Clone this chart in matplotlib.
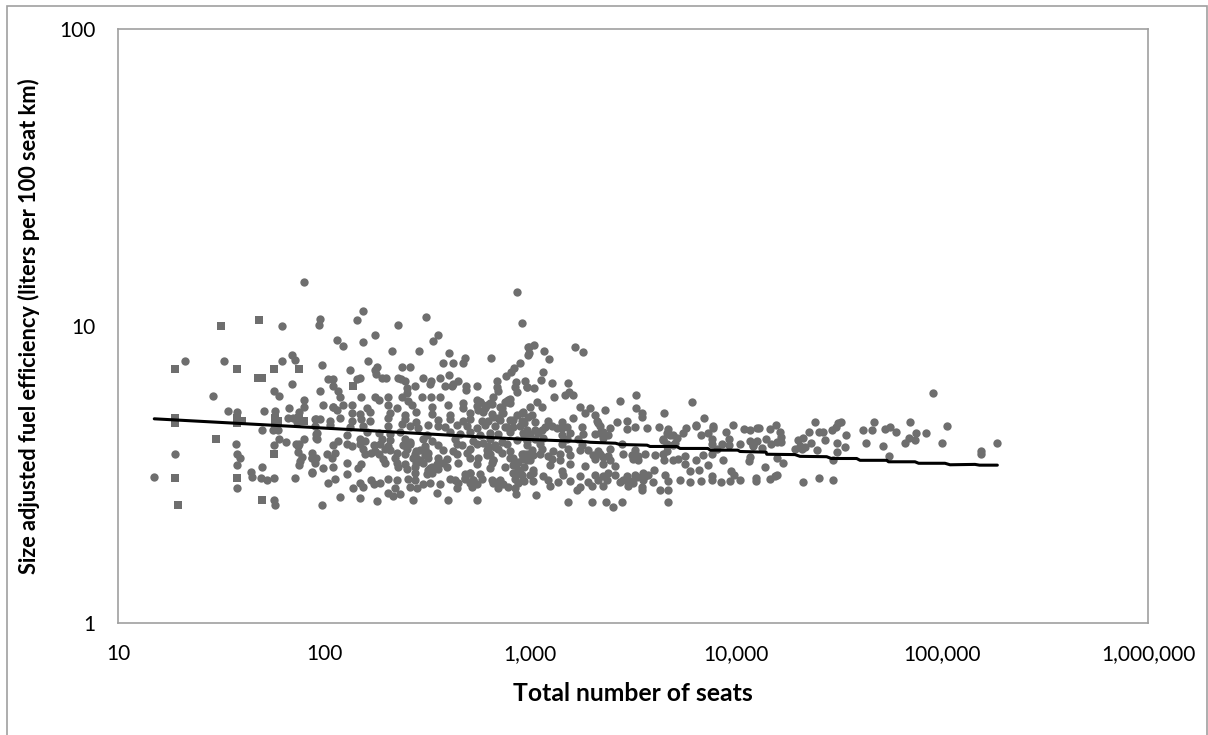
import matplotlib
matplotlib.use('Agg')
import matplotlib.pyplot as plt
from matplotlib.patches import Rectangle
from matplotlib.ticker import FixedLocator, FixedFormatter, NullLocator

plt.rcParams['font.family'] = ['Lato', 'DejaVu Sans']

GREY = '#6e6e6e'
FRAME = '#a0a0a0'

x_ticks = [10, 100, 1000, 10000, 100000, 1000000]
x_tick_labels = ['10', '100', '1,000', '10,000', '100,000', '1,000,000']
y_ticks = [1, 10, 100]
y_tick_labels = ['1', '10', '100']

# operators that came out with square markers in the original
seats_square = [31.6, 48.3, 18.9, 37.9, 57, 75.7, 48, 50, 18.9, 18.9, 37.9, 37.9, 40.1,
                57.6, 57.6, 59.8, 29.9, 18.9, 37.9, 19.6, 50, 75.7, 80, 139, 57]
fuel_square = [10.0, 10.5, 7.15, 7.15, 7.15, 7.15, 6.7, 6.7, 4.89, 4.72, 4.89, 4.72, 4.8,
               4.89, 4.72, 4.8, 4.17, 3.07, 3.07, 2.5, 2.6, 4.89, 4.8, 6.3, 3.72]

# below 100 seats
seats_small = [80, 62.8, 21.1, 32.8, 62.8, 69.9, 72.6, 69.9, 57, 60.4, 28.9, 80, 80, 67.6,
               34.2, 37.9, 51.2, 58, 75.7, 66.9, 70.6, 73.8, 91, 50, 56.4, 59.7, 91, 91,
               60.4, 65.2, 80, 37.3, 57, 73.3, 75.7, 74.5, 18.9, 37.9, 38.9, 74.5, 78, 76.5,
               75.7, 87.5, 87.5, 91, 37.9, 50, 44.3, 44.9, 15, 49.5, 53, 57, 72.6, 87.5,
               37.9, 57, 58]
fuel_small = [14.1, 10.0, 7.64, 7.64, 7.64, 8.0, 7.7, 6.36, 6.06, 5.82, 5.82, 5.62, 5.35, 5.3,
              5.19, 5.12, 5.19, 5.19, 5.12, 4.89, 4.89, 4.75, 4.85, 4.45, 4.45, 4.45, 4.34, 4.2,
              4.17, 4.07, 4.17, 4.0, 3.96, 4.0, 4.0, 3.93, 3.72, 3.72, 3.58, 3.76, 3.63, 3.5,
              3.4, 3.74, 3.58, 3.6, 3.4, 3.36, 3.23, 3.11, 3.11, 3.07, 3.03, 3.07, 3.07, 3.23,
              2.84, 2.6, 2.5]

# top of the cloud, 100 to 1,000 seats
seats_upper = [862, 915, 155, 144, 96, 94.6, 312, 228, 177, 359, 337, 155, 115, 124, 213, 290,
               406, 978, 978, 379, 422, 484, 475, 647, 164, 98, 895, 238, 261, 134, 176, 180,
               178, 833, 811, 762, 406, 105, 110, 144, 150, 191, 201, 228, 236, 247, 303, 330,
               364, 424, 449, 417, 386, 489, 489, 556, 694, 694, 703, 855, 845, 862, 950, 967,
               276, 252, 327, 110, 117, 120, 96, 152, 177, 185, 204, 238, 252, 298, 330, 364,
               664, 551, 786, 757, 572, 99, 110, 124, 115]
fuel_upper = [13.05, 10.26, 11.2, 10.5, 10.55, 10.1, 10.7, 10.1, 9.3, 9.3, 8.9, 8.8, 9.0, 8.55, 8.25, 8.25,
              8.1, 8.5, 8.0, 7.5, 7.5, 7.8, 7.5, 7.8, 7.62, 7.4, 7.5, 7.25, 7.25, 7.1, 7.1, 7.3,
              6.9, 7.2, 7.0, 6.8, 6.85, 6.65, 6.65, 6.65, 6.7, 6.7, 6.7, 6.7, 6.65, 6.55, 6.7, 6.55,
              6.7, 6.4, 6.55, 6.3, 6.3, 6.3, 6.1, 6.3, 6.55, 6.25, 6.05, 6.5, 6.25, 6.0, 6.55, 6.25,
              6.3, 6.2, 6.4, 6.3, 6.05, 5.78, 6.05, 5.78, 5.78, 5.65, 5.78, 5.78, 5.95, 5.78, 5.78, 5.78,
              5.78, 5.65, 5.65, 5.55, 5.55, 5.42, 5.35, 5.42, 5.2]

# dense band, 100 to 1,000 seats
seats_mid = [256, 475, 572, 640, 772, 800,
             111, 136, 161, 205, 225, 266, 333, 401, 475, 551, 617, 730, 1000,
             136, 150, 167, 209, 247, 281, 336, 409, 511, 594, 652, 730, 862, 929,
             90.4, 95.6, 107, 120, 136, 152, 167, 205, 247, 281, 359, 409, 475, 511, 583, 703, 830, 912,
             90.4, 107, 134, 155, 205, 238, 261, 287, 321, 359, 386, 440, 493, 551, 605, 677, 772, 895,
             92, 129, 161, 184, 209, 234, 315, 409, 458, 511, 572, 640, 703, 800, 929,
             92, 117, 150, 158, 191, 209, 247, 261, 303, 333, 432, 531, 640, 730, 862, 964,
             111, 129, 136, 150, 174, 187, 205, 243, 261, 309, 359, 440, 466, 551, 628, 677, 772, 964,
             155, 177, 198, 209, 252, 281, 309, 379, 424, 511, 617, 703, 800,
             103, 113, 158, 170, 184, 225, 247, 276, 321, 440, 493, 640, 730, 912, 964,
             87.1, 109, 194, 221, 271, 292, 321, 359, 394, 511, 562, 664, 830, 929,
             90.4, 129, 152, 198, 225, 247, 281, 352, 379, 449, 551, 652, 862,
             99, 111, 147, 229, 252, 276, 327, 359, 394, 640, 757,
             87.1, 129, 276, 315, 333, 484, 511, 572, 830, 895,
             113, 170, 205, 227, 256, 276, 409, 432, 484, 531, 583, 652, 716, 846, 929,
             105, 150, 174, 187, 303, 327, 365, 449, 511, 551, 664, 743, 878,
             139, 155, 221, 261, 284, 440, 521, 703, 786, 846,
             205, 234, 352, 854,
             119, 150, 217,
             401, 556, 180, 271,
             98]
fuel_mid = [5.6, 5.5, 5.55, 5.5, 5.6, 5.5,
            5.35, 5.4, 5.3, 5.42, 5.3, 5.4, 5.35, 5.42, 5.3, 5.38, 5.4, 5.3, 5.35,
            5.1, 5.05, 5.15, 5.1, 5.0, 5.12, 5.05, 5.0, 5.1, 5.15, 5.05, 5.1, 5.0, 5.12,
            4.85, 4.85, 4.8, 4.9, 4.8, 4.85, 4.78, 4.9, 4.85, 4.75, 4.82, 4.88, 4.78, 4.85, 4.8, 4.9, 4.82, 4.78,
            4.6, 4.65, 4.58, 4.62, 4.6, 4.68, 4.6, 4.55, 4.65, 4.6, 4.58, 4.65, 4.6, 4.55, 4.65, 4.6, 4.58, 4.62,
            4.35, 4.3, 4.4, 4.35, 4.32, 4.4, 4.3, 4.38, 4.33, 4.4, 4.3, 4.36, 4.32, 4.4, 4.35,
            4.15, 4.1, 4.15, 4.1, 4.18, 4.12, 4.15, 4.08, 4.15, 4.1, 4.18, 4.1, 4.15, 4.08, 4.14, 4.1,
            3.98, 4.0, 3.95, 4.0, 3.97, 4.02, 3.95, 3.98, 4.0, 3.95, 3.98, 4.02, 3.96, 4.0, 3.95, 3.98, 4.02, 3.96,
            3.85, 3.8, 3.85, 3.82, 3.85, 3.8, 3.85, 3.82, 3.8, 3.85, 3.82, 3.85, 3.8,
            3.72, 3.75, 3.7, 3.74, 3.72, 3.75, 3.7, 3.72, 3.75, 3.7, 3.73, 3.7, 3.75, 3.72, 3.7,
            3.58, 3.6, 3.56, 3.6, 3.58, 3.55, 3.6, 3.58, 3.56, 3.6, 3.58, 3.55, 3.6, 3.57,
            3.45, 3.46, 3.44, 3.47, 3.45, 3.43, 3.46, 3.44, 3.47, 3.45, 3.43, 3.46, 3.45,
            3.33, 3.35, 3.32, 3.34, 3.31, 3.35, 3.33, 3.3, 3.34, 3.32, 3.35,
            3.2, 3.18, 3.2, 3.17, 3.2, 3.18, 3.2, 3.17, 3.19, 3.2,
            3.05, 3.02, 3.05, 3.03, 3.06, 3.04, 3.05, 3.02, 3.06, 3.04, 3.05, 3.03, 3.02, 3.06, 3.04,
            2.95, 2.97, 2.93, 2.96, 2.94, 2.95, 2.93, 2.97, 2.95, 2.93, 2.96, 2.94, 2.95,
            2.85, 2.87, 2.84, 2.86, 2.84, 2.85, 2.87, 2.84, 2.86, 2.85,
            2.73, 2.72, 2.74, 2.72,
            2.66, 2.63, 2.68,
            2.6, 2.6, 2.58, 2.6,
            2.5]

# clumps around 300 to 1,000 seats and 1,000 to 5,000 seats
seats_clump = [572, 605, 652, 716, 772, 800, 743, 800, 664, 562, 628, 716, 757, 830, 912, 982,
               292, 309, 281, 303, 321, 333, 594, 628, 677, 617, 664, 800, 878, 929, 830, 878,
               846, 511, 531, 484, 690,
               930, 963, 930, 1058, 1019, 1139, 1345, 1507, 2147, 2069, 2270, 1920, 2030, 2270, 2400,
               2355, 3295, 3550, 3755, 930, 963, 930, 912, 930, 1038, 2838, 3175, 4782, 4440, 4610, 5050]
fuel_clump = [5.55, 5.28, 5.48, 5.35, 5.55, 5.7, 5.08, 4.82, 4.95, 5.22, 4.78, 4.82, 4.58, 4.58, 5.08, 4.95,
              3.83, 3.68, 3.58, 3.45, 3.27, 3.36, 4.03, 3.83, 3.92, 3.68, 3.54, 3.58, 3.48, 3.63, 3.4, 3.27,
              3.19, 3.19, 3.03, 3.07, 2.98,
              4.72, 4.47, 4.24, 4.47, 5.01, 4.47, 4.52, 4.58, 4.72, 4.33, 4.4, 3.82, 3.68, 3.63, 3.19,
              3.03, 3.11, 3.19, 3.14, 3.72, 3.55, 3.36, 3.14, 3.0, 3.19, 3.03, 2.95, 4.3, 4.13, 3.93, 4.03]

# 1,000 to 13,000 seats
seats_thousands = [1046, 990, 990, 1170, 1237, 1653, 1815, 1160, 1127, 1278, 1535, 965, 1046, 1480, 1546, 1610,
                   1307, 2734, 3270, 3270, 3480, 3480, 6100, 4490, 2310, 1085, 1147, 1748, 1955, 1847, 2060, 1623,
                   6960, 9650, 6400, 7700,
                   1058, 1227, 1424, 2107, 2633, 2946,
                   1183, 1274, 1424, 1783, 2186, 2445, 2946, 3235, 3686, 4252, 4697, 5698, 6390, 7710, 10900, 12660,
                   1000, 1098, 1424, 1563, 1816, 2186, 2400, 4610, 4963, 5551, 6800, 7340, 8950,
                   1058, 1160, 1507, 1718, 2270, 4440, 5152, 7620, 9200,
                   1118, 1424, 1783, 2786, 4610, 4963, 7620, 8530, 9200, 10460, 12130,
                   1019, 1139, 1298, 1535, 1748, 2147, 2445, 3235, 4610, 8070,
                   1038, 1118, 1227, 1398, 1563, 2186, 2400, 2838, 3117, 3358, 3618, 4049, 4440, 5656, 6930, 7620,
                   1000, 1274, 1398, 2069, 2445, 3175, 3358, 4490, 4926, 5250, 6390, 8600, 11500,
                   1250, 1563, 1850, 2270, 2584, 7340, 5656,
                   1038, 1424, 4004, 5980, 6640, 9450,
                   1000, 1160, 1451, 1748, 2069, 2270, 2584, 2946, 3235, 3618, 4522, 7620, 9730,
                   1038, 1227, 1373, 1563, 1920, 2147, 2734, 3058, 3550, 3975, 4697, 5348, 5980, 6800, 7620, 8450, 9354, 10460, 12440,
                   1250, 1748, 1993, 2270, 3002, 3485,
                   1686, 3485, 4276, 4697,
                   1065,
                   1535, 1993, 2335, 2786, 4697,
                   2530]
fuel_thousands = [8.63, 8.5, 8.1, 8.25, 7.72, 8.5, 8.15, 7.0, 6.6, 6.45, 6.45, 6.25, 6.2, 5.85, 6.0, 5.85,
                  5.75, 5.6, 5.85, 5.3, 5.08, 4.95, 5.55, 5.1, 5.2, 5.55, 5.35, 5.35, 5.3, 5.1, 5.0, 4.9,
                  4.9, 4.65, 4.65, 4.6,
                  4.76, 4.8, 4.75, 4.78, 4.74, 4.8,
                  4.56, 4.6, 4.52, 4.56, 4.6, 4.54, 4.5, 4.58, 4.52, 4.56, 4.5, 4.55, 4.6, 4.52, 4.5, 4.55,
                  4.33, 4.36, 4.3, 4.35, 4.32, 4.36, 4.3, 4.35, 4.3, 4.36, 4.3, 4.36, 4.4,
                  4.17, 4.2, 4.15, 4.18, 4.2, 4.17, 4.2, 4.15, 4.18,
                  4.0, 4.02, 3.98, 4.02, 4.0, 3.97, 4.02, 4.0, 3.97, 4.0, 3.98,
                  3.82, 3.85, 3.8, 3.84, 3.82, 3.8, 3.85, 3.82, 3.8, 3.84,
                  3.68, 3.7, 3.66, 3.7, 3.67, 3.7, 3.66, 3.7, 3.68, 3.65, 3.7, 3.67, 3.7, 3.65, 3.68, 3.7,
                  3.55, 3.57, 3.53, 3.56, 3.54, 3.57, 3.53, 3.55, 3.54, 3.56, 3.53, 3.55, 3.52,
                  3.4, 3.42, 3.38, 3.42, 3.38, 3.4, 3.42,
                  3.27, 3.25, 3.28, 3.26, 3.28, 3.25,
                  3.14, 3.12, 3.15, 3.13, 3.15, 3.12, 3.14, 3.12, 3.15, 3.13, 3.15, 3.12, 3.14,
                  3.0, 3.02, 2.98, 3.01, 2.99, 3.02, 2.98, 3.0, 3.02, 2.99, 3.0, 3.02, 2.98, 3.0, 3.02, 2.98, 3.0, 3.02, 3.0,
                  2.9, 2.88, 2.9, 2.89, 2.9, 2.88,
                  2.8, 2.8, 2.8, 2.8,
                  2.7,
                  2.55, 2.56, 2.55, 2.56, 2.55,
                  2.46]

# right hand tail
seats_large = [90000, 106000, 70000, 47000, 24200, 31400, 32400, 30600, 29100, 41300, 45800, 52900, 56200, 59700,
               26300, 25200, 27100, 22500, 34300, 74700, 74000, 69000, 66000, 84000, 99700, 42900, 52000, 33800,
               31000, 31000, 55500, 155000, 155000, 185000, 29700,
               12900, 14700, 15600, 16300, 16600, 16600, 15900, 11690, 11700, 12600, 14000, 12100, 14800, 13300,
               20100, 21100, 23000, 20450, 21700, 19300, 20900, 24600, 11700, 15900, 17000, 13900, 12500,
               14700, 15500, 15900, 21100, 25200, 29700]
fuel_large = [5.93, 4.6, 4.75, 4.75, 4.75, 4.7, 4.76, 4.58, 4.46, 4.46, 4.46, 4.5, 4.56, 4.4,
              4.4, 4.4, 4.12, 4.4, 4.3, 4.35, 4.13, 4.2, 4.03, 4.35, 4.05, 4.03, 3.95, 3.92,
              4.03, 3.76, 3.65, 3.8, 3.7, 4.03, 3.55,
              4.55, 4.5, 4.65, 4.38, 4.24, 4.07, 4.07, 4.46, 4.1, 4.1, 4.17, 3.95, 4.0, 3.88,
              4.13, 4.2, 4.03, 3.95, 3.9, 3.85, 3.85, 3.83, 3.63, 3.6, 3.45, 3.36, 3.07,
              3.05, 3.12, 3.15, 2.99, 3.07, 3.03]

# fitted trend, stepped as drawn
trend_seats = [15, 85.5, 894, 1850, 1955, 2600, 2734, 3700, 3824, 5150, 5350, 7300, 7500, 10200, 10460,
               14000, 14100, 19340, 20450, 27550, 29000, 38530, 40000, 53900, 55000, 73950, 77000,
               103400, 109400, 144600, 152000, 185600]
trend_fuel = [4.87, 4.56, 4.16, 4.08, 4.06, 4.03, 3.99, 3.97, 3.93, 3.93, 3.87, 3.87, 3.82, 3.82, 3.78,
              3.76, 3.7, 3.69, 3.64, 3.63, 3.58, 3.58, 3.53, 3.53, 3.49, 3.49, 3.45,
              3.45, 3.41, 3.42, 3.40, 3.40]

W, H = 1208, 735
fig = plt.figure(figsize=(W / 100, H / 100), dpi=100)
fig.add_artist(Rectangle((7 / W, -0.01), 1200 / W, 1.01 - 6 / H, transform=fig.transFigure,
                         facecolor='none', edgecolor=FRAME, linewidth=1.2))
ax = fig.add_axes([118 / W, 1 - 623 / H, 1030 / W, 594 / H])

ax.scatter(seats_small, fuel_small, s=36, color=GREY, linewidths=0)
ax.scatter(seats_upper, fuel_upper, s=36, color=GREY, linewidths=0)
ax.scatter(seats_mid, fuel_mid, s=36, color=GREY, linewidths=0)
ax.scatter(seats_clump, fuel_clump, s=36, color=GREY, linewidths=0)
ax.scatter(seats_thousands, fuel_thousands, s=36, color=GREY, linewidths=0)
ax.scatter(seats_large, fuel_large, s=36, color=GREY, linewidths=0)
ax.scatter(seats_square, fuel_square, s=32, marker='s', color=GREY, linewidths=0)
ax.plot(trend_seats, trend_fuel, color='black', linewidth=2.2, solid_capstyle='round', zorder=5)

ax.set_xscale('log')
ax.set_yscale('log')
ax.set_xlim(10, 1000000)
ax.set_ylim(1, 100)
ax.xaxis.set_major_locator(FixedLocator(x_ticks))
ax.xaxis.set_major_formatter(FixedFormatter(x_tick_labels))
ax.yaxis.set_major_locator(FixedLocator(y_ticks))
ax.yaxis.set_major_formatter(FixedFormatter(y_tick_labels))
ax.xaxis.set_minor_locator(NullLocator())
ax.yaxis.set_minor_locator(NullLocator())
ax.tick_params(length=0, labelsize=15, labelcolor='black')
ax.tick_params(axis='x', pad=15)
ax.tick_params(axis='y', pad=16)
for side in ax.spines.values():
    side.set_color(FRAME)
    side.set_linewidth(1.2)

ax.set_xlabel('Total number of seats', fontsize=17.8, fontweight='bold', labelpad=13)
ax.set_ylabel('Size adjusted fuel efficiency (liters per 100 seat km)', fontsize=15.7, fontweight='bold', labelpad=14)

fig.savefig('out.png', dpi=100)
plt.close()
